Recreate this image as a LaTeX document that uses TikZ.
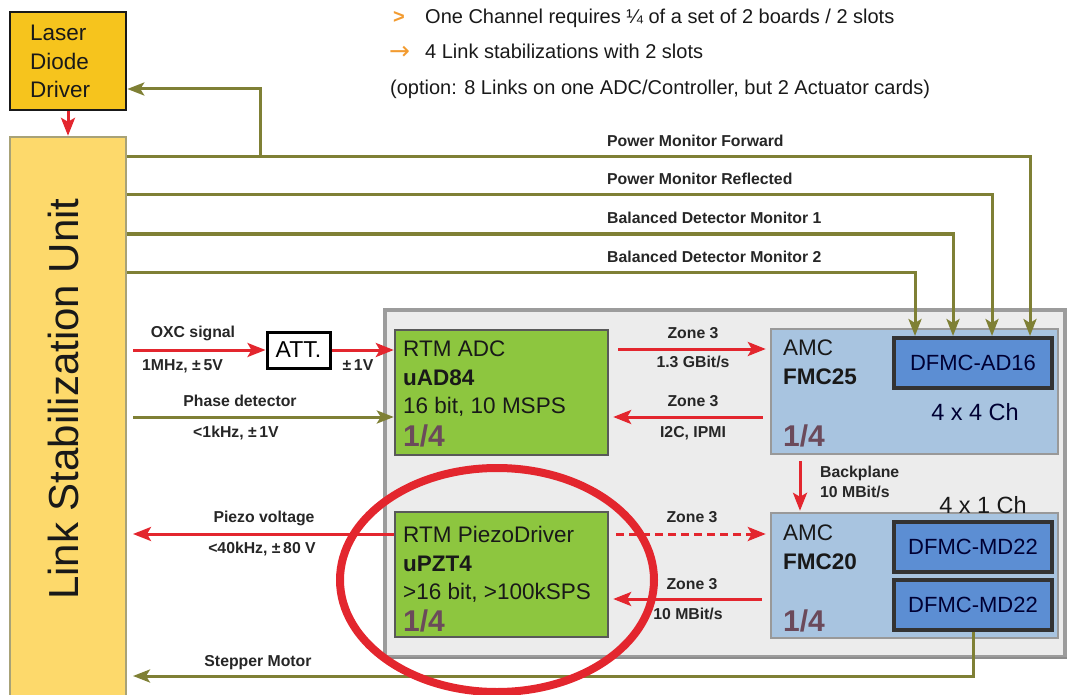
\documentclass[tikz,border=0pt]{standalone}
\usepackage{fontspec}
\setmainfont{Liberation Sans}
\newfontfamily\symfont{DejaVu Sans}
\usepackage{tikz}
\usetikzlibrary{arrows.meta,calc,positioning}
\usepackage{xcolor}

\definecolor{olivel}{HTML}{7F8035}
\definecolor{redl}{HTML}{E3262E}
\definecolor{lddfill}{HTML}{F6C41D}
\definecolor{lsufill}{HTML}{FDD96B}
\definecolor{lsuedge}{HTML}{A8A277}
\definecolor{panelfill}{HTML}{ECECEC}
\definecolor{paneledge}{HTML}{9C9C9C}
\definecolor{rtmgreen}{HTML}{8DC63F}
\definecolor{amcblue}{HTML}{A8C4E0}
\definecolor{fmcblue}{HTML}{5C8ED3}
\definecolor{quarter}{HTML}{6B4A5B}
\definecolor{bullet}{HTML}{F29B30}

\tikzset{
  sig/.style={draw=olivel,line width=3pt,-{Stealth[length=17pt,width=13pt,inset=4pt]}},
  rsig/.style={draw=redl,line width=3pt,-{Stealth[length=18pt,width=14pt,inset=4pt]}},
  lbl/.style={inner sep=0pt,text=black!85,font=\fontsize{15.8}{18}\selectfont\bfseries},
  boxtxt/.style={inner sep=0pt,align=left,text=black!90,font=\fontsize{22.5}{28.5}\selectfont},
  qtxt/.style={inner sep=0pt,text=quarter,font=\fontsize{30}{32}\selectfont\bfseries},
  toptxt/.style={inner sep=0pt,text=black!90,font=\fontsize{20}{22}\selectfont},
  lddbox/.style={draw=black!90,fill=lddfill,line width=2.6pt,inner sep=0pt},
  lsubox/.style={draw=lsuedge,fill=lsufill,line width=2.4pt,inner sep=0pt},
  panel/.style={draw=paneledge,fill=panelfill,line width=3.5pt,inner sep=0pt},
  rtm/.style={draw=black!65,fill=rtmgreen,line width=2.4pt,inner sep=0pt},
  amc/.style={draw=black!40,fill=amcblue,line width=2.4pt,inner sep=0pt},
  dfmc/.style={draw=black!80,fill=fmcblue,line width=4pt,inner sep=0pt,
    text=blue!20!black,font=\fontsize{22}{24}\selectfont},
  ring/.style={draw=redl,line width=8pt}
}

\begin{document}
\begin{tikzpicture}[x=1pt,y=-1pt]
\useasboundingbox (0,0) rectangle (1068,695);

% blocks
\node[lddbox,minimum width=116pt,minimum height=98pt] (ldd) at (68,61) {};
\node[lsubox,minimum width=116pt,minimum height=568pt] (lsu) at (68,421) {};
\node[panel,minimum width=680pt,minimum height=347pt] (crate) at (725,483.5) {};
\draw[black!45,line width=2pt] ([yshift=1pt]crate.south west) -- ([yshift=1pt]crate.south east);
\node[rtm,minimum width=213pt,minimum height=125pt] (adc) at (501.5,392.5) {};
\node[rtm,minimum width=213pt,minimum height=125pt] (pzt) at (501.5,574.5) {};
\node[amc,minimum width=287pt,minimum height=125pt] (fmc25) at (914.5,391.5) {};
\node[amc,minimum width=287pt,minimum height=125pt] (fmc20) at (914.5,575.5) {};
\node[dfmc,minimum width=158pt,minimum height=50pt] (ad16) at (973,363) {DFMC-AD16};
\node[dfmc,minimum width=158pt,minimum height=50pt] (md22a) at (973,547) {DFMC-MD22};
\node[dfmc,minimum width=158pt,minimum height=50pt] (md22b) at (973,605) {DFMC-MD22};
\node[draw=black,fill=white,line width=3pt,inner sep=0pt,minimum width=63pt,minimum height=36pt,
  font=\fontsize{23}{25}\selectfont] (att) at (298.5,350) {ATT.};

% texts in the blocks
\node[boxtxt,anchor=north west] (lddtxt) at (30,25) {Laser\\Diode\\Driver};
\node[inner sep=0pt,rotate=90,text=black!90,font=\fontsize{42}{44}\selectfont] (lsutxt) at (63,399) {Link Stabilization Unit};
\node[boxtxt,anchor=north west] (adctxt) at (403,341) {RTM ADC\\\textbf{uAD84}\\16 bit, 10 MSPS};
\node[qtxt,anchor=base west] (adcq) at (403,446) {1/4};
\node[boxtxt,anchor=north west] (pzttxt) at (403,526) {RTM PiezoDriver\\\textbf{uPZT4}\\>16 bit, >100kSPS};
\node[qtxt,anchor=base west] (pztq) at (403,631) {1/4};
\node[boxtxt,anchor=north west] (fmc25txt) at (783,340) {AMC\\\textbf{FMC25}};
\node[qtxt,anchor=base west] (fmc25q) at (783,446) {1/4};
\node[boxtxt,anchor=north west] (fmc20txt) at (783,525) {AMC\\\textbf{FMC20}};
\node[qtxt,anchor=base west] (fmc20q) at (783,631) {1/4};
\node[inner sep=0pt,text=blue!20!black,font=\fontsize{23.5}{25}\selectfont] (ch44) at (975,412) {4 x 4 Ch};
\node[inner sep=0pt,text=black!90,font=\fontsize{23.5}{25}\selectfont] (ch41) at (983,505) {4 x 1 Ch};

% notes on top
\node[toptxt,anchor=base west,text=bullet,font=\fontsize{20}{22}\selectfont\bfseries] (b1) at (393,24) {>};
\node[toptxt,anchor=base west] (note1) at (425,24) {One Channel requires ¼ of a set of 2 boards / 2 slots};
\node[toptxt,anchor=base west,text=bullet,font=\fontsize{25}{26}\symfont] (b2) at (389,60) {→};
\node[toptxt,anchor=base west] (note2) at (425,59) {4 Link stabilizations with 2 slots};
\node[toptxt,anchor=base west] (note3) at (390,95) {(option: 8 Links on one ADC/Controller, but 2 Actuator cards)};

% monitor lines
\foreach \yy/\xx/\nm/\txt in {157/1030/pf/Power Monitor Forward,
    195/992/pr/Power Monitor Reflected,
    234/953/bda/Balanced Detector Monitor 1,
    272/915/bdb/Balanced Detector Monitor 2}{
  \coordinate (\nm) at (\xx,\yy);
  \draw[sig] (lsu.east |- \nm) -| (ad16.north -| \nm);
  \node[lbl,anchor=base west] (lbl\nm) at (607,\yy-10) {\txt};
}
\coordinate (fb) at (260,157);
\draw[sig] (fb) |- ([yshift=-28pt]ldd.east);
\draw[rsig] (ldd.south) -- (lsu.north);

% inputs of the ADC
\coordinate (oxc) at (133,350);
\draw[rsig] (oxc) -- (att.west);
\draw[rsig] (att.east) -- (adc.west |- att.east);
\node[lbl,anchor=base] (oxclbl) at (193,337) {OXC signal};
\node[lbl,anchor=base west] (oxcrng) at (142,370) {1MHz, ±\,5V};
\node[lbl,anchor=base] (attrng) at (358,370) {±\,1V};
\coordinate (phs) at (133,417);
\draw[sig] (phs) -- (adc.west |- phs);
\node[lbl,anchor=base] (phslbl) at (240,406) {Phase detector};
\node[lbl,anchor=base] (phsrng) at (236,437) {<1kHz, ±\,1V};

% outputs of the piezo driver
\coordinate (pzv) at (133,534);
\draw[rsig] (pzv -| pzt.west) -- (pzv);
\node[lbl,anchor=base] (pzvlbl) at (264,522) {Piezo voltage};
\node[lbl,anchor=base] (pzvrng) at (262,553) {<40kHz, ±\,80 V};
\coordinate (stp) at (133,676);
\draw[sig] (md22b.south) |- (stp);
\node[lbl,anchor=base] (stplbl) at (258,666) {Stepper Motor};

% zone 3 links
\coordinate (z1) at (693,349);
\draw[rsig,shorten <=9pt,shorten >=4pt] (adc.east |- z1) -- (fmc25.west |- z1);
\node[lbl,anchor=base] (z1a) at (693,338) {Zone 3};
\node[lbl,anchor=base] (z1b) at (693,367) {1.3 GBit/s};
\coordinate (z2) at (693,417);
\draw[rsig,shorten <=7pt,shorten >=4pt] (fmc25.west |- z2) -- (adc.east |- z2);
\node[lbl,anchor=base] (z2a) at (693,406) {Zone 3};
\node[lbl,anchor=base] (z2b) at (693,437) {I2C, IPMI};
\coordinate (z3) at (692,534);
\draw[rsig,dashed,dash pattern=on 8pt off 5pt,shorten <=7pt,shorten >=4pt] (pzt.east |- z3) -- (fmc20.west |- z3);
\node[lbl,anchor=base] (z3a) at (692,522) {Zone 3};
\coordinate (z4) at (692,599);
\draw[rsig,shorten <=8pt,shorten >=4pt] (fmc20.west |- z4) -- (pzt.east |- z4);
\node[lbl,anchor=base] (z4a) at (692,589) {Zone 3};
\node[lbl,anchor=base] (z4b) at (688,619) {10 MBit/s};

% backplane
\coordinate (bp) at (800,480);
\draw[rsig,shorten <=6pt,shorten >=1pt] (fmc25.south -| bp) -- (fmc20.north -| bp);
\node[lbl,anchor=base west] (bplbl) at (820,477) {Backplane};
\node[lbl,anchor=base west] (bprate) at (820,497) {10 MBit/s};

% highlight
\draw[ring] (497,580) ellipse [x radius=157pt, y radius=112pt];
\end{tikzpicture}
\end{document}
